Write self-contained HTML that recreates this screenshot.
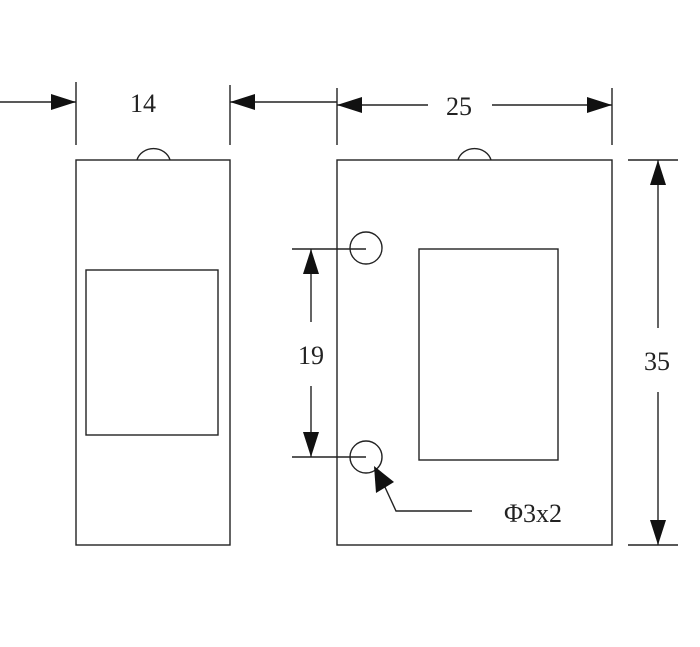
<!DOCTYPE html>
<html><head><style>html,body{margin:0;padding:0;background:#fff}svg{display:block}</style></head>
<body>
<svg width="700" height="647" viewBox="0 0 700 647" xmlns="http://www.w3.org/2000/svg">
<g stroke="#222" stroke-width="1.4" fill="none">
<!-- left body -->
<rect x="76" y="160" width="154" height="385"/>
<rect x="86" y="270" width="132" height="165"/>
<path d="M137 160 A17 15 0 0 1 170 160"/>
<!-- right body -->
<rect x="337" y="160" width="275" height="385"/>
<rect x="419" y="249" width="139" height="211"/>
<path d="M458 160 A17 15 0 0 1 491 160"/>
<circle cx="366" cy="248" r="16"/>
<circle cx="366" cy="457" r="16"/>
<!-- top dims -->
<line x1="76" y1="82" x2="76" y2="145"/>
<line x1="230" y1="85" x2="230" y2="145"/>
<line x1="337" y1="88" x2="337" y2="145"/>
<line x1="612" y1="88" x2="612" y2="145"/>
<line x1="0" y1="102" x2="76" y2="102"/>
<line x1="230" y1="102" x2="337" y2="102"/>
<line x1="337" y1="105" x2="428" y2="105"/>
<line x1="492" y1="105" x2="612" y2="105"/>
<!-- right dim -->
<line x1="628" y1="160" x2="678" y2="160"/>
<line x1="628" y1="545" x2="678" y2="545"/>
<line x1="658" y1="160" x2="658" y2="328"/>
<line x1="658" y1="392" x2="658" y2="545"/>
<!-- 19 dim -->
<line x1="292" y1="249" x2="366" y2="249"/>
<line x1="292" y1="457" x2="366" y2="457"/>
<line x1="311" y1="249" x2="311" y2="322"/>
<line x1="311" y1="386" x2="311" y2="457"/>
<!-- leader -->
<polyline points="378,472 396,511 472,511"/>
</g>
<g fill="#111">
<polygon points="76,102 51,94 51,110"/>
<polygon points="230,102 255,94 255,110"/>
<polygon points="337,105 362,97 362,113"/>
<polygon points="612,105 587,97 587,113"/>
<polygon points="658,160 650,185 666,185"/>
<polygon points="658,545 650,520 666,520"/>
<polygon points="311,249 303,274 319,274"/>
<polygon points="311,457 303,432 319,432"/>
<polygon points="374,466 376,493 394,482"/>
</g>
<g font-family="Liberation Serif, serif" font-size="26" fill="#222" text-anchor="middle">
<text x="143" y="112">14</text>
<text x="459" y="115">25</text>
<text x="657" y="370">35</text>
<text x="311" y="364">19</text>
<text x="533" y="522">Φ3x2</text>
</g>
</svg>
</body></html>
